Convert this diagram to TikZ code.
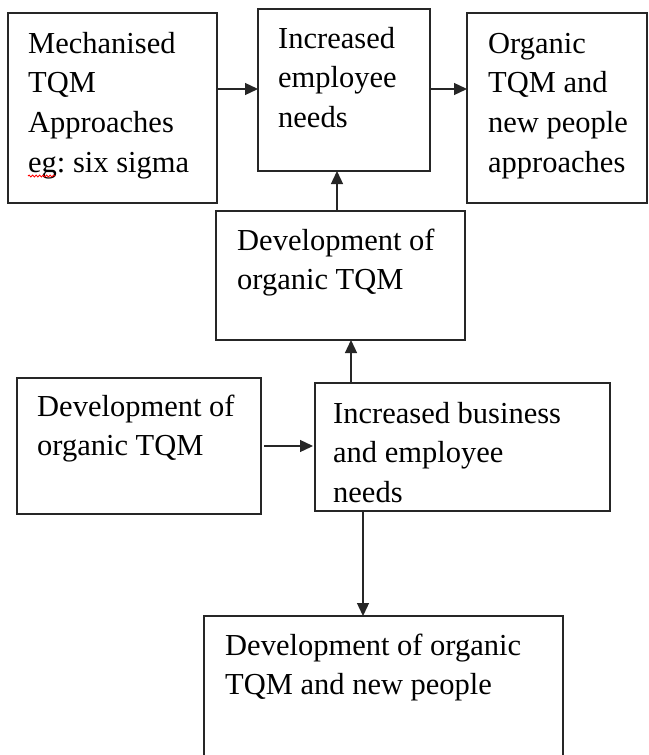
\documentclass[tikz,border=0pt]{standalone}
\usepackage{fontspec}
\setmainfont{Liberation Serif}
\usetikzlibrary{arrows.meta,decorations.pathmorphing}
\tikzset{
  box/.style={draw=black!85, line width=1.3pt, rectangle, anchor=north west, inner sep=0pt, outer sep=0pt},
  txt/.style={anchor=north west, inner sep=0pt, align=left, font=\fontsize{30.5}{39.7}\selectfont},
  arr/.style={draw=black!85, line width=1.3pt, -{Triangle[length=13pt,width=12pt]}},
}
\newcommand{\fst}{\rule{0pt}{25pt}}
\frenchspacing
\begin{document}
\frenchspacing
\begin{tikzpicture}[x=1pt,y=-1pt]
\useasboundingbox (0,0) rectangle (648,755);
\clip (0,0) rectangle (648,755);
\fill[white] (0,0) rectangle (648,755);
% boxes
\node[box, minimum width=209pt, minimum height=190pt] (A) at (8,13) {};
\node[box, minimum width=172pt, minimum height=162pt] (B) at (258,9) {};
\node[box, minimum width=180pt, minimum height=190pt] (C) at (467,13) {};
\node[box, minimum width=249pt, minimum height=129pt] (D) at (216,211) {};
\node[box, minimum width=244pt, minimum height=136pt] (E) at (17,378) {};
\node[box, minimum width=295pt, minimum height=128pt] (F) at (315,383) {};
\node[box, minimum width=359pt, minimum height=170pt] (G) at (204,616) {};
% texts
\node[txt] (tA) at (28,28) {\fst Mechanised\\TQM\\Approaches\\eg: six sigma};
\node[txt] (tB) at (278,23) {\fst Increased\\employee\\needs};
\node[txt] (tC) at (488,28) {\fst Organic\\TQM and\\new people\\approaches};
\node[txt] (tD) at (237,225) {\fst Development of\\organic TQM};
\node[txt] (tE) at (37,391) {\fst Development of\\organic TQM};
\node[txt] (tF) at (333,398) {\fst Increased business\\and employee\\needs};
\node[txt] (tG) at (225,630) {\fst Development of organic\\TQM and new people};
% spell-check squiggle
\coordinate (sq1) at (28,176);
\coordinate (sq2) at (55,176);
\draw[red, line width=0.8pt, decorate, decoration={snake, amplitude=1pt, segment length=3.5pt}] (sq1) -- (sq2);
% connectors
\draw[arr] (A.east |- 0,89) -- (B.west |- 0,89);
\draw[arr] (B.east |- 0,89) -- (C.west |- 0,89);
\draw[arr] (D.north -| 337,0) -- (B.south -| 337,0);
\draw[arr] (F.north -| 351,0) -- (D.south -| 351,0);
\draw[arr, shorten <=3pt, shorten >=2pt] (E.east |- 0,446) -- (F.west |- 0,446);
\draw[arr] (F.south -| 363,0) -- (G.north -| 363,0);
\end{tikzpicture}
\end{document}
